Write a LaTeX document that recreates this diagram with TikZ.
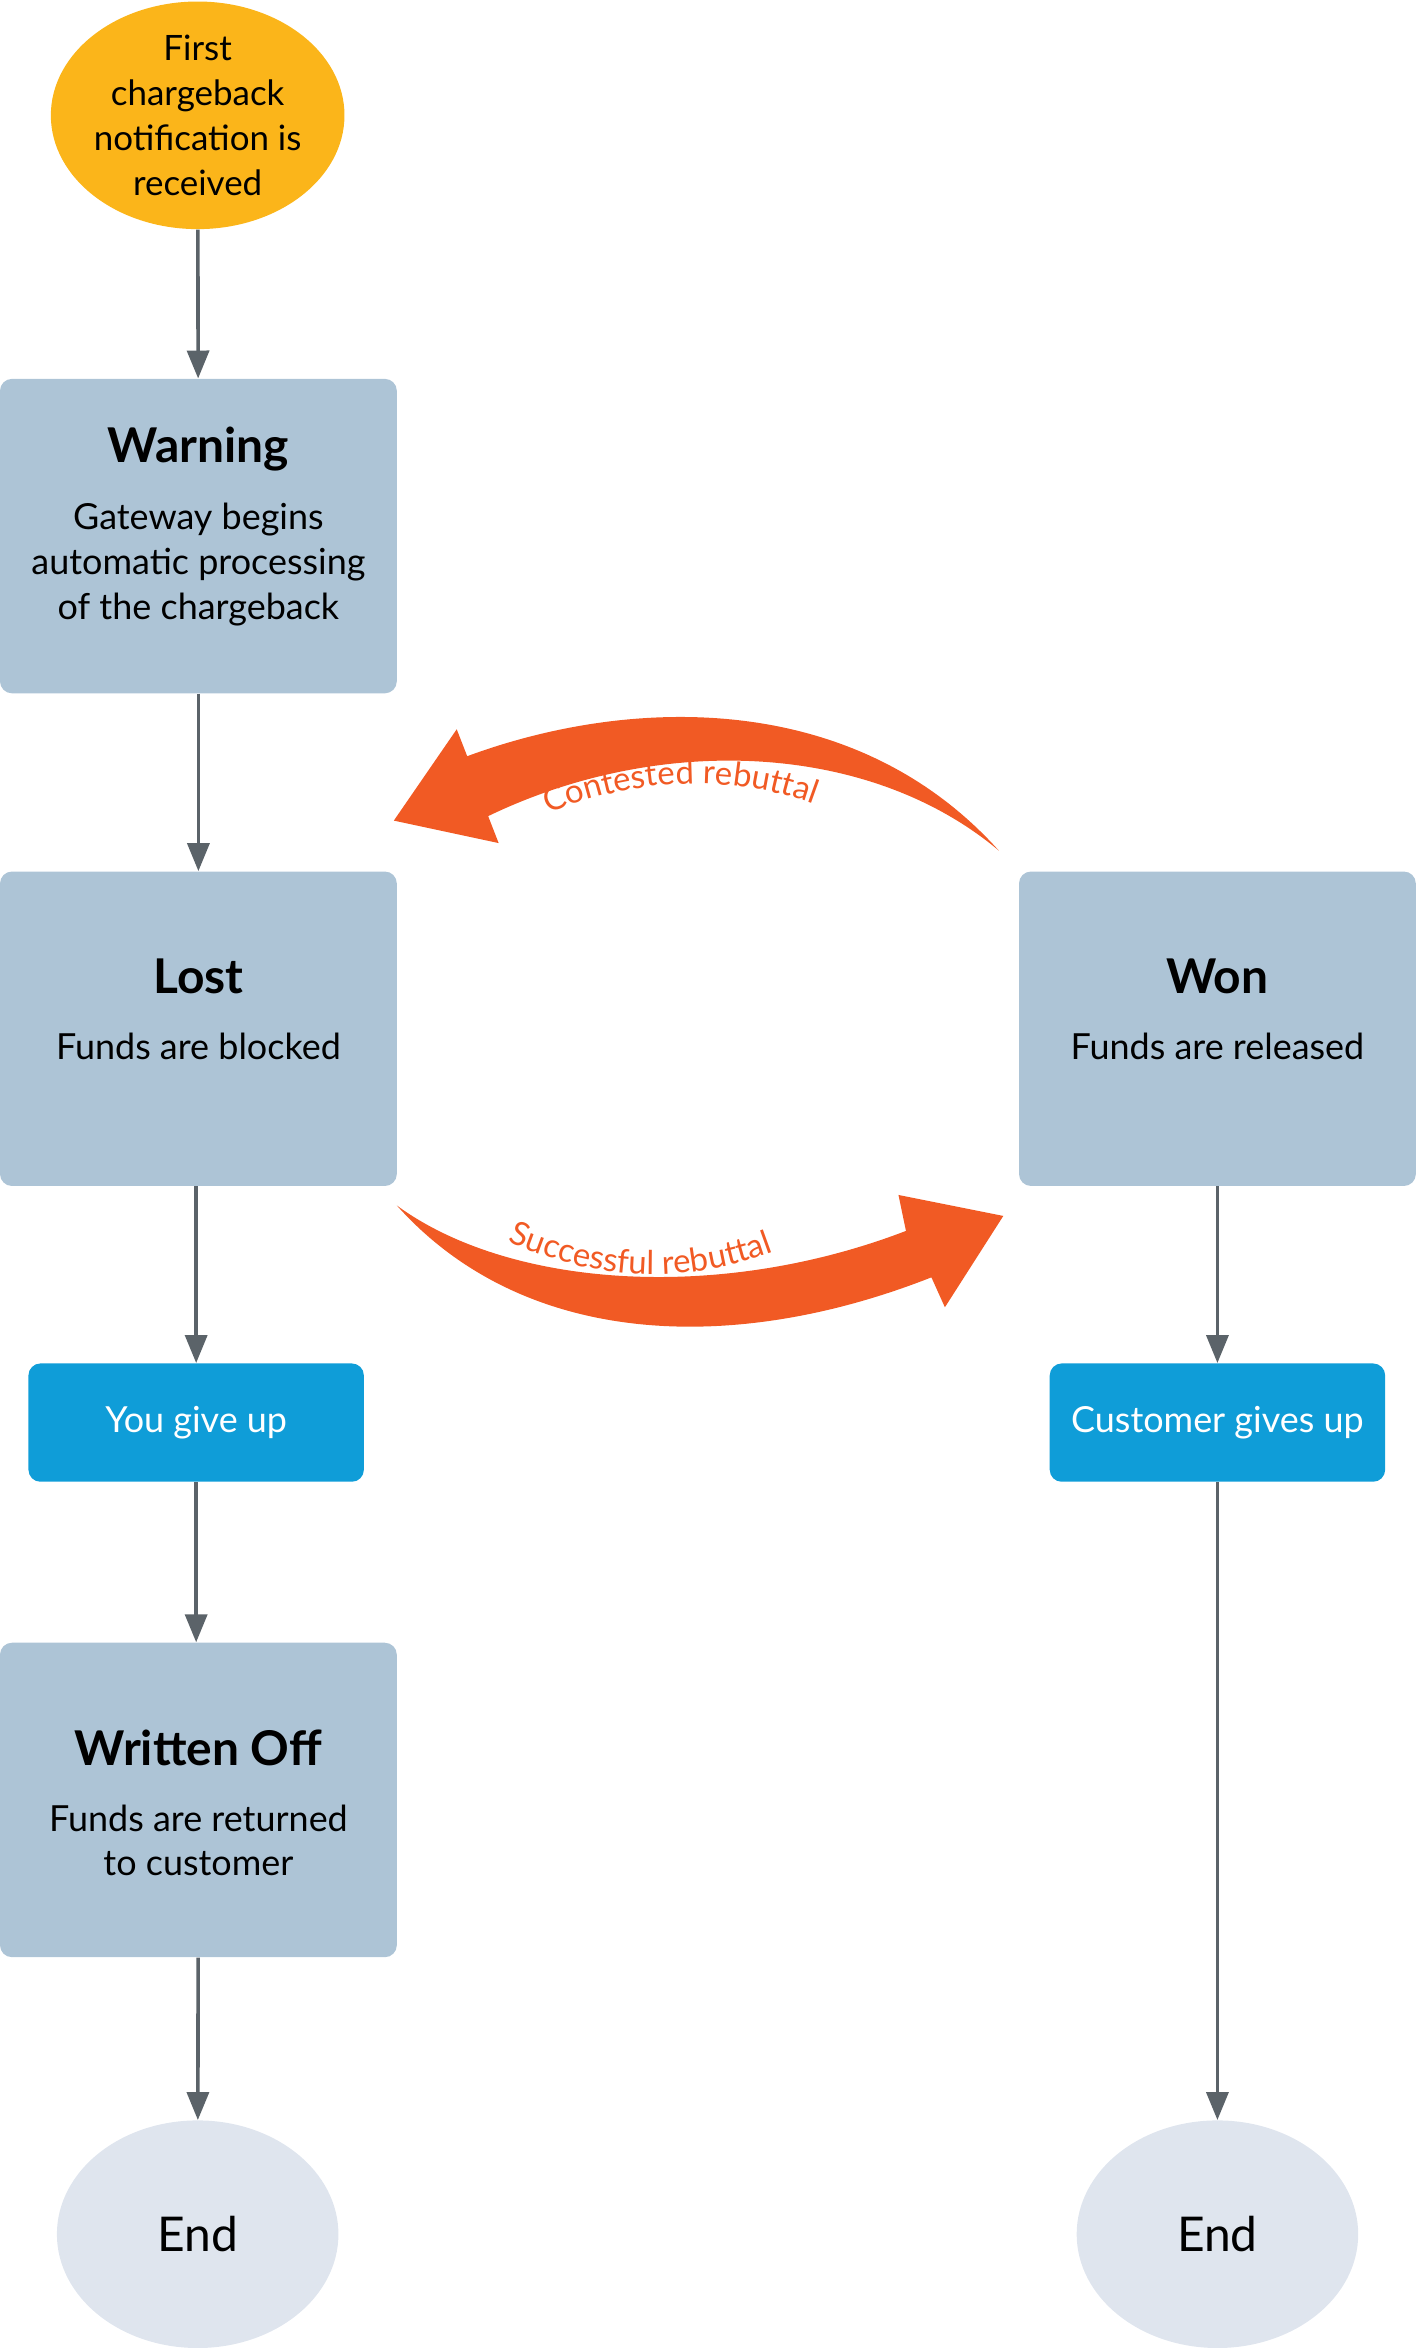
\documentclass[tikz,border=0pt]{standalone}
\usepackage{fontspec}
\setmainfont{Lato}
\usetikzlibrary{decorations.text,arrows.meta,shapes.geometric}
\definecolor{gold}{HTML}{FBB51A}
\definecolor{boxc}{HTML}{ADC4D6}
\definecolor{bluec}{HTML}{0F9DD8}
\definecolor{endc}{HTML}{DFE5EE}
\definecolor{arr}{HTML}{5B6369}
\definecolor{orng}{HTML}{F15A24}
\begin{document}
\begin{tikzpicture}[x=0.75pt,y=-0.75pt,
 box/.style={fill=boxc,rounded corners=6pt,minimum width=198.75pt,minimum height=157.5pt,align=center,inner sep=0pt},
 act/.style={fill=bluec,rounded corners=6pt,minimum width=168pt,minimum height=59.25pt,text=white,font=\fontsize{18}{22}\selectfont,inner sep=0pt},
 ell/.style={ellipse,minimum width=141pt,minimum height=114pt,inner sep=0pt,align=center},
 ar/.style={draw=arr,line width=1.8pt,-{Triangle[width=11pt,length=14pt]}},
 bd/.style={align=center,font=\fontsize{18}{22.5}\selectfont},
 ttl/.style={font=\fontsize{24}{28}\selectfont\bfseries}]
\useasboundingbox (0,0) rectangle (946,1568);
\node[ell,fill=gold,font=\fontsize{17.5}{22.5}\selectfont] (start) at (132,77) {First\\chargeback\\notification is\\received};
\node[box] (warn) at (132.5,358) {};
\node[ttl] at (132.5,300) {Warning};
\node[bd] at (132.5,377) {Gateway begins\\automatic processing\\of the chargeback};
\node[box] (lost) at (132.5,687) {};
\node[ttl] at (132.5,652) {Lost};
\node[bd] at (132.5,699) {Funds are blocked};
\node[box] (won) at (813,687) {};
\node[ttl] at (813,652) {Won};
\node[bd] at (813,699) {Funds are released};
\node[act] (you) at (131,950) {You give up};
\node[act] (cust) at (813,950) {Customer gives up};
\node[box] (wo) at (132.5,1202) {};
\node[ttl] at (132.5,1167) {Written Off};
\node[bd] at (132.5,1229) {Funds are returned\\to customer};
\node[ell,fill=endc,font=\fontsize{24}{28}\selectfont] (end1) at (132,1492) {End};
\node[ell,fill=endc,font=\fontsize{24}{28}\selectfont] (end2) at (813,1492) {End};
\draw[ar] (start) -- (warn);
\draw[ar] (warn) -- (lost);
\draw[ar] (lost.south -| you) -- (you);
\draw[ar] (you) -- (wo.north -| you);
\draw[ar] (wo) -- (end1);
\draw[ar] (won) -- (cust);
\draw[ar] (cust) -- (end2);
% orange arrows
\fill[orng] (667,568) .. controls (570,460) and (420,465) .. (312,505) -- (305,487) -- (263,548) -- (333,563) -- (326,545) .. controls (440,490) and (580,495) .. (667,568) -- cycle;
\fill[orng] (265,805) .. controls (350,900) and (490,905) .. (622,853) -- (631,873) -- (670,812) -- (600,798) -- (605,822) .. controls (480,870) and (340,860) .. (265,805) -- cycle;
\path[decorate,decoration={text along path,text align=center,text color=orng,text={|\fontsize{16.5}{18}\selectfont|Contested rebuttal}}] (348,552) .. controls (420,515) and (500,515) .. (562,545);
\path[decorate,decoration={text along path,text align=center,text color=orng,text={|\fontsize{16.5}{18}\selectfont|Successful rebuttal}}] (320,820) .. controls (400,862) and (470,858) .. (536,828);
\end{tikzpicture}
\end{document}
